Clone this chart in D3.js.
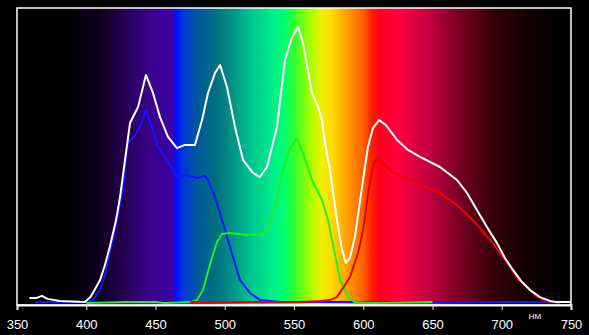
<!DOCTYPE html>
<html>
<head>
<meta charset="utf-8">
<script src="https://cdn.jsdelivr.net/npm/d3@7"></script>
<style>
  html, body { margin: 0; padding: 0; background: #000; }
  svg { display: block; }
</style>
</head>
<body>
<div id="plot"></div>
<script>
const w = 589;
const h = 335;

// Wavelength ticks (nm)
const ticks = [350, 400, 450, 500, 550, 600, 650, 700, 750];
const unitLabel = 'HM';

// Series: [wavelength nm, relative intensity 0..100]
const whiteSeries = [
  [359,1.7],[364,1.7],[368,2.4],[372,1.4],[381,0.7],[399,0.3],[403,2.0],[406,4.4],[410,7.8],
  [413.5,12.9],[417,19.0],[421.5,28.1],[424.4,35.9],[428,48.5],[431.6,61.0],[435.2,64.4],
  [437.4,66.4],[443.1,77.3],[448.2,71.2],[453.2,63.1],[459,56.3],[465.5,52.5],[471.3,53.6],
  [478.5,53.6],[483.6,62.0],[487.9,71.2],[493,78.0],[496.6,80.7],[501.6,73.2],[507.4,59.7],
  [513.2,48.5],[520.4,44.1],[525.4,42.7],[530.5,46.1],[537.7,59.7],[543.5,82.4],[548.6,90.2],
  [552.9,93.6],[556.5,88.1],[563,71.2],[567.3,66.5],[570.2,62.0],[572.4,54.2],[576,45.1],
  [581,28.1],[584.7,18.0],[587.5,13.6],[590.4,15.3],[594,22.4],[599.1,39.3],[603.4,52.9],
  [607,59.3],[611.4,62.0],[616.4,60.3],[624.4,55.3],[632.3,51.9],[641,49.5],[655.4,46.1],
  [667.7,41.7],[674.9,37.3],[682.1,31.5],[689.3,25.8],[696.6,20.3],[702.3,15.3],[708.1,11.2],
  [713.9,7.5],[720.4,4.4],[727.6,2.0],[734.8,0.7],[739.9,0.3],[750,0.3]
];

const blueSeries = [
  [363,0.3],[381,0.3],[401,0.3],[405,1.0],[410,4.4],[413.5,9.5],[417,16.9],[421.5,26.4],
  [426.5,38.3],[430.1,54.2],[435.2,56.9],[438.8,59.7],[443.1,65.4],[447.5,59.7],[451.8,52.9],
  [458.3,48.5],[465.5,42.7],[472.7,43.4],[480,42.4],[485.7,43.1],[487.9,41.7],[493,35.9],
  [496.6,30.5],[503.8,19.0],[511,7.8],[518.2,3.4],[525.4,1.0],[540,0.3],[740,0.3]
];

const greenSeries = [
  [400,0],[428,0.3],[449.6,0.3],[457,0],[475,0.3],[480,1.0],[484.3,4.4],[487.2,9.5],
  [490.8,15.3],[494.4,20.7],[498,23.4],[503.8,23.7],[514.6,23.1],[527.6,23.1],[531.2,25.4],
  [534.1,29.8],[537.7,34.9],[542.1,45.1],[547.1,52.5],[552.2,55.9],[556.5,50.8],[563,41.7],
  [570.2,34.9],[574.6,28.1],[578.2,19.7],[583.3,7.8],[589,2.0],[594,0.3],[605,0],[650,0.3]
];

const redSeries = [
  [475,0.3],[554,0.3],[568.8,0.7],[576,1.0],[581,2.0],[586.8,6.1],[590.4,8.8],[596.2,16.9],
  [599.9,24.7],[603.4,36.6],[607,46.8],[610.7,49.5],[615.7,46.8],[621.5,44.1],[633.8,41.7],
  [646,39.0],[655.4,37.3],[667.7,33.2],[679.2,28.1],[686.5,24.1],[693.7,20.3],[700.2,15.9],
  [706,12.2],[711.7,8.1],[718.2,5.4],[724,2.7],[729.8,1.0],[736.3,0.3],[742,0]
];

// Spectrum background colour stops [nm, colour]
const spectrumStops = [
  [350,'#000000'],[385,'#000000'],[410,'#0e0020'],[425,'#22004a'],[445,'#3a0088'],
  [462,'#3c00a8'],[465,'#0010ff'],[470,'#0038d8'],[480,'#00589c'],[494,'#00707f'],
  [508,'#009c88'],[520,'#00c890'],[535,'#00f088'],[543,'#00ff70'],[550,'#30ff30'],
  [561,'#a0ff00'],[570,'#f0f000'],[578,'#ffd800'],[588,'#ffa000'],[600,'#ff6000'],
  [606,'#ff2000'],[612,'#ff0020'],[626,'#ff0040'],[648,'#c00040'],[672,'#700020'],
  [696,'#300008'],[720,'#100000'],[740,'#000000'],[750,'#000000']
];

const svg = d3.select('#plot').append('svg').attr('width', w).attr('height', h);

const x = d3.scaleLinear().domain([350, 750]).range([17, 571]);
const y = d3.scaleLinear().domain([0, 100]).range([303, 8]);

// spectrum gradient
const grad = svg.append('defs').append('linearGradient')
  .attr('id', 'spectrum')
  .attr('gradientUnits', 'userSpaceOnUse')
  .attr('x1', x(350)).attr('x2', x(750)).attr('y1', 0).attr('y2', 0);
grad.selectAll('stop')
  .data(spectrumStops)
  .join('stop')
  .attr('offset', d => (d[0] - 350) / 400)
  .attr('stop-color', d => d[1]);

svg.append('rect')
  .attr('x', x(350)).attr('y', y(100))
  .attr('width', x(750) - x(350)).attr('height', 305 - y(100))
  .attr('fill', 'url(#spectrum)');

// curves
const line = d3.line().x(d => x(d[0])).y(d => y(d[1]));
const series = [
  {data: blueSeries, color: '#1414ff'},
  {data: greenSeries, color: '#22ee22'},
  {data: redSeries, color: '#ee0000'},
  {data: whiteSeries, color: '#ffffff'}
];
svg.selectAll('.curve')
  .data(series)
  .join('path')
  .attr('class', 'curve')
  .attr('d', d => line(d.data))
  .attr('fill', 'none')
  .attr('stroke', d => d.color)
  .attr('stroke-width', 2)
  .attr('stroke-linejoin', 'round');

// frame
svg.append('rect')
  .attr('x', x(350)).attr('y', y(100))
  .attr('width', x(750) - x(350)).attr('height', 305 - y(100))
  .attr('fill', 'none')
  .attr('stroke', '#fff')
  .attr('stroke-width', 1.5);

// axis
const axis = svg.append('g')
  .attr('transform', 'translate(0,305)')
  .call(d3.axisBottom(x).tickValues(ticks).tickSize(5).tickPadding(10).tickFormat(d3.format('d')));
axis.select('.domain').attr('stroke', '#fff').attr('stroke-width', 2);
axis.selectAll('.tick line').attr('stroke', '#ddd');
axis.selectAll('.tick text')
  .attr('fill', '#fff')
  .style('font-family', '"Liberation Sans", Arial, sans-serif')
  .style('font-size', '13px');

svg.append('text')
  .attr('x', 535).attr('y', 319)
  .attr('text-anchor', 'middle')
  .attr('fill', '#fff')
  .style('font-family', '"Liberation Sans", Arial, sans-serif')
  .style('font-size', '8px')
  .text(unitLabel);
</script>
</body>
</html>
